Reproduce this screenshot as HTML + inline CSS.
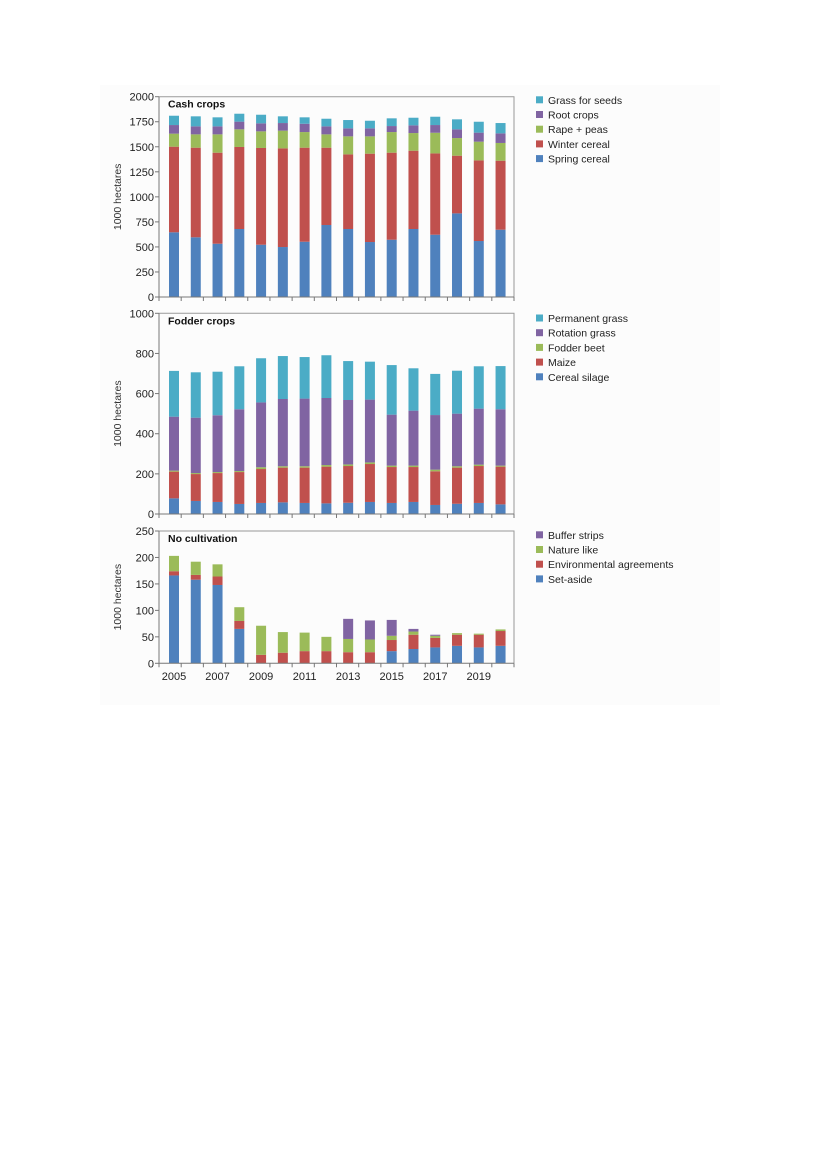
<!DOCTYPE html>
<html><head><meta charset="utf-8"><style>
html,body{margin:0;padding:0;background:#fff;}
svg{display:block;font-family:"Liberation Sans",sans-serif;}
</style></head><body>
<svg id="chart" width="827" height="1170" viewBox="0 0 827 1170" xmlns="http://www.w3.org/2000/svg">
<rect x="100" y="85" width="620" height="620" fill="#fcfcfc"/>
<g id="root"></g>
</svg>
<script>
const years = [2005,2006,2007,2008,2009,2010,2011,2012,2013,2014,2015,2016,2017,2018,2019,2020];
const yearLabels = ["2005","2007","2009","2011","2013","2015","2017","2019"];
// Cash crops (1000 ha)
const springCereal = [646,596,532,679,522,499,552,719,679,549,572,679,622,835,559,672];
const winterCereal = [855,895,909,819,966,985,939,772,745,882,869,782,812,576,805,689];
const rapePeas = [130,133,183,176,166,177,156,133,180,173,206,176,206,176,187,177];
const rootCrops = [86,80,80,77,80,76,83,80,80,80,60,77,77,87,90,96];
const grassSeeds = [93,100,90,79,86,67,64,76,83,76,77,76,83,100,109,103];
const cashTicks = [0,250,500,750,1000,1250,1500,1750,2000];
// Fodder crops
const cerealSilage = [78,65,60,50,55,58,55,53,56,60,55,60,45,51,55,48];
const maize = [133,134,144,159,169,173,176,183,183,189,179,174,168,180,184,188];
const fodderBeet = [5,5,5,5,9,7,7,8,8,8,7,7,8,7,7,5];
const rotationGrass = [269,276,283,308,323,335,337,334,321,313,254,274,272,262,279,281];
const permanentGrass = [228,226,217,214,220,214,207,213,194,189,247,211,205,214,211,215];
const fodderTicks = [0,200,400,600,800,1000];
// No cultivation
const setAside = [166,158,148,65,0,0,0,0,0,0,23,27,30,33,30,33];
const envAgreements = [8,9,16,15,16,20,23,23,21,21,21,27,18,21,24,28];
const natureLike = [29,25,23,26,55,39,35,27,25,24,8,6,4,3,2,3];
const bufferStrips = [0,0,0,0,0,0,0,0,38,36,30,5,2,0,0,0];
const noCultTicks = [0,50,100,150,200,250];

const C={blue:"#4f81bd",red:"#c0504d",green:"#9bbb59",purple:"#8064a2",cyan:"#4bacc6"};
const NS="http://www.w3.org/2000/svg";
const root=document.getElementById('root');
function mk(tag,attrs,parent){const e=document.createElementNS(NS,tag);for(const k in attrs)e.setAttribute(k,attrs[k]);(parent||root).appendChild(e);return e;}
const X0=159,X1=514;
function xBand(i){return X0+(X1-X0)*i/16;}
function xCenter(i){return 174+i*21.77;}
const BW=10;

function panel(key,title,top,bottom,max,ticks,series,legendY){
  const g=mk('g',{});
  
  
  const y=v=>bottom-(bottom-top)*v/max;
  // bars
  for(let i=0;i<years.length;i++){
    let acc=0;
    series.forEach(s=>{
      const v=s.data[i];
      if(v>0){
        const r=mk('rect',{x:xCenter(i)-BW/2,y:y(acc+v),width:BW,height:y(acc)-y(acc+v),fill:s.color},g);
        
        
      }
      acc+=v;
    });
  }
  // frame
  const fr=mk('path',{d:`M${X0} ${top}H${X1}V${bottom}`,stroke:"#999",fill:"none","stroke-width":1},g);
  
  
  const ax=mk('path',{d:`M${X0} ${top}V${bottom}H${X1}`,stroke:"#777",fill:"none","stroke-width":1},g);
  
  
  for(let k=0;k<=16;k++){
    const t=mk('line',{x1:xBand(k),x2:xBand(k),y1:bottom,y2:bottom+4,stroke:"#777"},g);
    
    
  }
  ticks.forEach(v=>{
    const t=mk('line',{x1:X0-4,x2:X0,y1:y(v),y2:y(v),stroke:"#777"},g);
    
    
    const l=mk('text',{x:X0-5,y:y(v)+4,'font-size':11,'text-anchor':'end',fill:'#222'},g);
    l.textContent=v;
    
    
  });
  const yt=mk('text',{x:0,y:0,'font-size':10.5,'text-anchor':'middle',fill:'#333',transform:`translate(121 ${(top+bottom)/2}) rotate(-90)`},g);
  yt.textContent='1000 hectares';
  
  
  const tt=mk('text',{x:168,y:top+11,'font-size':10.5,'font-weight':'bold',fill:'#111'},g);
  tt.textContent=title;
  
  
  // legend (reverse order)
  const rev=series.slice().reverse();
  rev.forEach((s,j)=>{
    const ly=legendY+j*14.7;
    const sq=mk('rect',{x:536,y:ly-4,width:7,height:7,fill:s.color},g);
    
    
    const lt=mk('text',{x:548,y:ly+3.5,'font-size':10.5,fill:'#222'},g);
    lt.textContent=s.label;
    
    
  });
  return y;
}
panel('cash-crops','Cash crops',96.7,297,2000,cashTicks,[
 {id:'spring-cereal',label:'Spring cereal',data:springCereal,color:C.blue},
 {id:'winter-cereal',label:'Winter cereal',data:winterCereal,color:C.red},
 {id:'rape-peas',label:'Rape + peas',data:rapePeas,color:C.green},
 {id:'root-crops',label:'Root crops',data:rootCrops,color:C.purple},
 {id:'grass-seeds',label:'Grass for seeds',data:grassSeeds,color:C.cyan}],100.3);
panel('fodder-crops','Fodder crops',313.3,514,1000,fodderTicks,[
 {id:'cereal-silage',label:'Cereal silage',data:cerealSilage,color:C.blue},
 {id:'maize',label:'Maize',data:maize,color:C.red},
 {id:'fodder-beet',label:'Fodder beet',data:fodderBeet,color:C.green},
 {id:'rotation-grass',label:'Rotation grass',data:rotationGrass,color:C.purple},
 {id:'permanent-grass',label:'Permanent grass',data:permanentGrass,color:C.cyan}],318.5);
panel('no-cultivation','No cultivation',531,663.3,250,noCultTicks,[
 {id:'set-aside',label:'Set-aside',data:setAside,color:C.blue},
 {id:'environmental-agreements',label:'Environmental agreements',data:envAgreements,color:C.red},
 {id:'nature-like',label:'Nature like',data:natureLike,color:C.green},
 {id:'buffer-strips',label:'Buffer strips',data:bufferStrips,color:C.purple}],535.3);
yearLabels.forEach(lbl=>{
  const i=years.indexOf(+lbl);
  const t=mk('text',{x:xCenter(i),y:680,'font-size':11,'text-anchor':'middle',fill:'#222'});
  t.textContent=lbl;
  
  
});
</script>
</body></html>
